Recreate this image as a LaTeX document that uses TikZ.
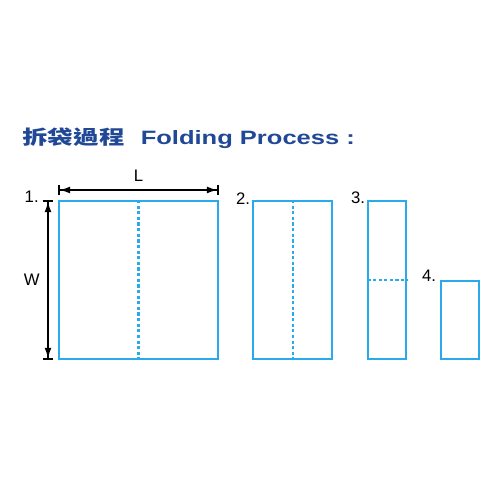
\documentclass[tikz,border=0pt]{standalone}
\usepackage{fontspec}
\setmainfont{Liberation Sans}
\newfontfamily\cjkfont{Noto Sans CJK TC}
\usepackage{xcolor}
\usepackage{tikz}
\usetikzlibrary{arrows.meta,positioning}
\definecolor{titleblue}{RGB}{32,72,150}
\definecolor{bagblue}{RGB}{40,170,235}
\tikzset{
  bagbox/.style={draw=bagblue, line width=1.1pt, inner sep=0pt},
  foldline/.style={draw=bagblue, line width=1.2pt, dash pattern=on 1.8pt off 1.4pt},
  steplabel/.style={font=\fontsize{9.5}{11}\selectfont, anchor=base east, inner sep=0pt},
  dimlabel/.style={font=\fontsize{9.5}{11}\selectfont, inner sep=0pt},
  dimline/.style={{Bar[width=6pt]Latex[length=6pt,width=4pt]}-{Latex[length=6pt,width=4pt]Bar[width=6pt]}, line width=0.9pt}
}

\begin{document}
\begin{tikzpicture}
\useasboundingbox (0,0) rectangle (10,10);
\node[font=\bfseries\fontsize{11}{13}\selectfont, text=titleblue, anchor=base west,
  xscale=1.32, inner sep=0pt] (title) at (0.44,7.10)
{{\cjkfont 拆袋過程}\hspace{7pt}Folding Process :};

\node[bagbox, minimum width=3.18cm, minimum height=3.16cm, anchor=north west] (bag1) at (1.16,6.00) {};
\node[bagbox, minimum width=1.58cm, minimum height=3.16cm,
  right=0.67cm of bag1.north east, anchor=north west] (bag2) {};
\node[bagbox, minimum width=0.76cm, minimum height=3.16cm,
  right=0.68cm of bag2.north east, anchor=north west] (bag3) {};
\node[bagbox, minimum width=0.76cm, minimum height=1.56cm,
  right=0.66cm of bag3.south east, anchor=south west] (bag4) {};

\draw[foldline] (bag1.north) -- (bag1.south);
\draw[foldline] (bag2.north) -- (bag2.south);
\draw[foldline] (bag3.west) -- (bag3.east);

\node[steplabel] (step1) at ([shift={(-0.38,-0.06)}]bag1.north west) {1.};
\node[steplabel] (step2) at ([shift={(-0.04,-0.10)}]bag2.north west) {2.};
\node[steplabel] (step3) at ([shift={(-0.04,-0.08)}]bag3.north west) {3.};
\node[steplabel] (step4) at ([shift={(-0.08,-0.04)}]bag4.north west) {4.};

\draw[dimline] ([yshift=0.2cm]bag1.north west) -- node[dimlabel, above=0.16cm] (len) {L}
  ([yshift=0.2cm]bag1.north east);
\draw[dimline] ([xshift=-0.2cm]bag1.north west) -- node[dimlabel, left=0.15cm] (wid) {W}
  ([xshift=-0.2cm]bag1.south west);
\end{tikzpicture}
\end{document}
